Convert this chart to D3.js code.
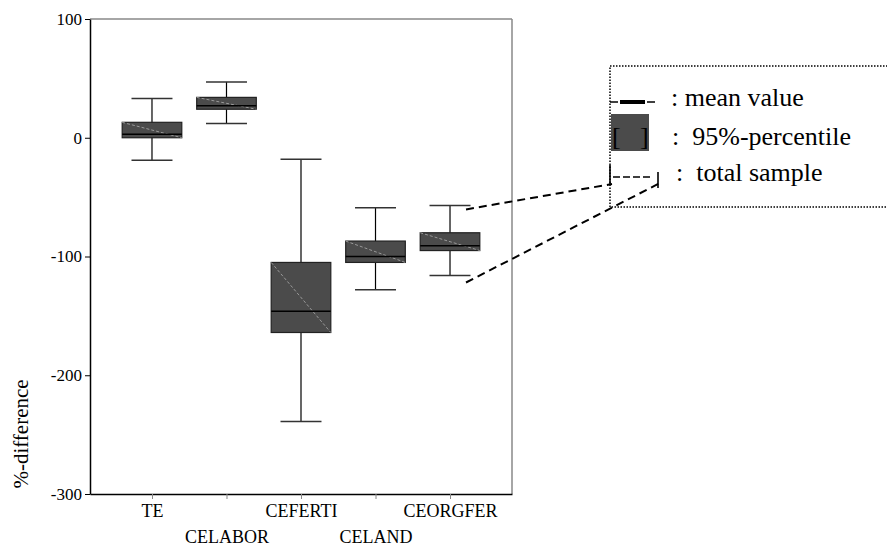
<!DOCTYPE html>
<html>
<head>
<meta charset="utf-8">
<script src="https://cdn.jsdelivr.net/npm/d3@7"></script>
<style>
  body { margin: 0; background: #fff; }
</style>
</head>
<body>
<svg class="chart" width="887" height="547" font-family="Liberation Serif"></svg>
<script>
var categories = ["TE", "CELABOR", "CEFERTI", "CELAND", "CEORGFER"];
var whiskerLow  = [-19, 12, -239, -128, -116];
var q1          = [0, 24, -164, -105, -95];
var median      = [3, 27, -146, -100, -91];
var q3          = [13, 34, -105, -87, -80];
var whiskerHigh = [33, 47, -18, -59, -57];
var yTicks = [-300, -200, -100, 0, 100];
var legendLabels = [": mean value", ":  95%-percentile", ":  total sample"];

var plotLeft = 90, plotRight = 512, plotTop = 19, plotBottom = 494;
var font = "Liberation Serif";

var x = d3.scalePoint().domain(categories).range([plotLeft, plotRight]).padding(0.832);
var y = d3.scaleLinear().domain([-300, 100]).range([plotBottom, plotTop]);
var step = x.step();
var boxW = step * 0.8, capW = step * 0.55;

var chart = d3.select(".chart");

// frame: top and right in grey
chart.append("line").attr("x1", plotLeft).attr("x2", plotRight).attr("y1", plotTop).attr("y2", plotTop)
  .attr("stroke", "#888").attr("stroke-width", 1.5);
chart.append("line").attr("x1", plotRight).attr("x2", plotRight).attr("y1", plotTop).attr("y2", plotBottom)
  .attr("stroke", "#888").attr("stroke-width", 1.5);

var yAxis = chart.append("g")
  .attr("transform", "translate(" + plotLeft + ",0)")
  .call(d3.axisLeft(y).tickValues(yTicks).tickFormat(d => String(d))
    .tickSize(5).tickSizeOuter(0).tickPadding(3));
var xAxis = chart.append("g")
  .attr("transform", "translate(0," + plotBottom + ")")
  .call(d3.axisBottom(x).tickSize(5).tickSizeOuter(0).tickPadding(6));

chart.selectAll(".domain").attr("stroke", "#000").attr("stroke-width", 1.5);
chart.selectAll(".tick line").attr("stroke", "#000");
yAxis.attr("font-family", font).attr("font-size", 17);
yAxis.selectAll("text").attr("fill", "#000");
xAxis.attr("font-family", font).attr("font-size", 18);
xAxis.selectAll("text").attr("fill", "#000")
  .attr("dy", (d, i) => i % 2 ? "2.1em" : "0.67em");
xAxis.selectAll(".tick line").attr("stroke", "#888");

chart.append("text")
  .attr("transform", "rotate(-90)")
  .attr("x", -434).attr("y", 28)
  .attr("text-anchor", "middle")
  .attr("font-family", font)
  .attr("font-size", 21)
  .text("%-difference");

var boxes = chart.append("g").selectAll("g").data(categories).join("g");

// whiskers
boxes.append("line")
  .attr("x1", d => x(d)).attr("x2", d => x(d))
  .attr("y1", (d, i) => y(whiskerHigh[i])).attr("y2", (d, i) => y(whiskerLow[i]))
  .attr("stroke", "#000").attr("stroke-width", 1.2);
boxes.append("line")
  .attr("x1", d => x(d) - capW / 2).attr("x2", d => x(d) + capW / 2)
  .attr("y1", (d, i) => y(whiskerHigh[i])).attr("y2", (d, i) => y(whiskerHigh[i]))
  .attr("stroke", "#333").attr("stroke-width", 1.5);
boxes.append("line")
  .attr("x1", d => x(d) - capW / 2).attr("x2", d => x(d) + capW / 2)
  .attr("y1", (d, i) => y(whiskerLow[i])).attr("y2", (d, i) => y(whiskerLow[i]))
  .attr("stroke", "#333").attr("stroke-width", 1.5);

// boxes
boxes.append("rect")
  .attr("x", d => x(d) - boxW / 2)
  .attr("y", (d, i) => y(q3[i]))
  .attr("width", boxW)
  .attr("height", (d, i) => y(q1[i]) - y(q3[i]))
  .attr("fill", "#4b4b4b")
  .attr("stroke", "#222").attr("stroke-width", 1.2);
boxes.append("line")
  .attr("x1", d => x(d) - boxW / 2).attr("x2", d => x(d) + boxW / 2)
  .attr("y1", (d, i) => y(q3[i])).attr("y2", (d, i) => y(q1[i]))
  .attr("stroke", "#999").attr("stroke-width", 1).attr("stroke-dasharray", "3,2");
boxes.append("line")
  .attr("x1", d => x(d) - boxW / 2).attr("x2", d => x(d) + boxW / 2)
  .attr("y1", (d, i) => y(median[i])).attr("y2", (d, i) => y(median[i]))
  .attr("stroke", "#000").attr("stroke-width", 1.5);

// legend box
var lg = chart.append("g").attr("font-family", font);
lg.append("rect").attr("x", 610).attr("y", 66).attr("width", 300).attr("height", 141)
  .attr("fill", "none").attr("stroke", "#000").attr("stroke-width", 1.5).attr("stroke-dasharray", "1.5,1.5");

// mean symbol
lg.append("line").attr("x1", 610).attr("x2", 618).attr("y1", 102).attr("y2", 102).attr("stroke", "#000").attr("stroke-width", 1.5);
lg.append("line").attr("x1", 620).attr("x2", 645).attr("y1", 102).attr("y2", 102).attr("stroke", "#000").attr("stroke-width", 4);
lg.append("line").attr("x1", 647).attr("x2", 655).attr("y1", 102).attr("y2", 102).attr("stroke", "#000").attr("stroke-width", 1.5);
// percentile symbol
lg.append("rect").attr("x", 611).attr("y", 114).attr("width", 38).attr("height", 37).attr("fill", "#4b4b4b");
lg.append("text").attr("x", 612).attr("y", 145).attr("font-size", 26).attr("fill", "#000").text("[");
lg.append("text").attr("x", 640).attr("y", 145).attr("font-size", 26).attr("fill", "#000").text("]");
// total sample symbol
lg.append("line").attr("x1", 610).attr("x2", 610).attr("y1", 165).attr("y2", 184).attr("stroke", "#000").attr("stroke-width", 1.6);
lg.append("line").attr("x1", 613).attr("x2", 653).attr("y1", 177).attr("y2", 177).attr("stroke", "#000").attr("stroke-width", 1.4).attr("stroke-dasharray", "7,3");
lg.append("line").attr("x1", 658).attr("x2", 658).attr("y1", 172).attr("y2", 188).attr("stroke", "#000").attr("stroke-width", 1.6);

lg.selectAll(".lab").data(legendLabels).join("text")
  .attr("class", "lab")
  .attr("x", (d, i) => [671, 672, 676][i])
  .attr("y", (d, i) => [106, 145, 181][i])
  .attr("font-size", 26)
  .attr("xml:space", "preserve")
  .style("white-space", "pre")
  .text(d => d);

// pointer lines from the last box to the legend
var li = categories.length - 1, last = categories[li];
chart.append("line")
  .attr("x1", x(last) + 16).attr("y1", y(whiskerHigh[li]) + 4)
  .attr("x2", 612).attr("y2", 184)
  .attr("stroke", "#000").attr("stroke-width", 2).attr("stroke-dasharray", "8,5");
chart.append("line")
  .attr("x1", x(last) + 16).attr("y1", y(whiskerLow[li]) + 7)
  .attr("x2", 660).attr("y2", 183)
  .attr("stroke", "#000").attr("stroke-width", 2).attr("stroke-dasharray", "8,5");
</script>
</body>
</html>
